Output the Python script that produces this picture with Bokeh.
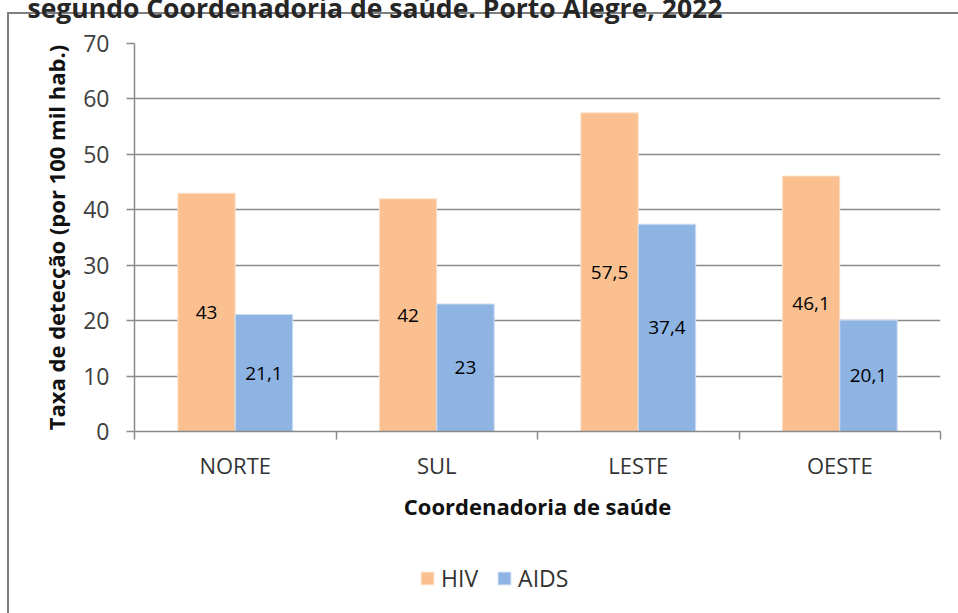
from bokeh.plotting import figure
from bokeh.layouts import column
from bokeh.models import (Range1d, FixedTicker, LinearAxis, Grid, Legend, LegendItem,
                          Title, ColumnDataSource)
from bokeh.embed import file_html
from bokeh.resources import INLINE
from bokeh.core.properties import value

# ---- data ----
categories = ["NORTE", "SUL", "LESTE", "OESTE"]
hiv = [43, 42, 57.5, 46.1]
aids = [21.1, 23, 37.4, 20.1]
series_names = ["HIV", "AIDS"]
y_ticks = [0, 10, 20, 30, 40, 50, 60, 70]
title_text = "segundo Coordenadoria de saúde. Porto Alegre, 2022"
x_title = "Coordenadoria de saúde"
y_title = "Taxa de detecção (por 100 mil hab.)"

# ---- style ----
HIV_COLOR = "#FAC090"
AIDS_COLOR = "#8EB4E3"
HIV_LINE = "#fde4cf"
AIDS_LINE = "#cddcf2"
GRID = "#8a8a8a"
FONT = "Open Sans"
W = 958
SHIFT = 33                 # top part of the canvas hidden above the page (cut title)
H_MAIN = 545 + SHIFT
H_LEG = 68
BAR_W = 0.285

def fmt(v):
    return f"{v:g}".replace(".", ",")

centers = [i + 0.5 for i in range(len(categories))]
src_hiv = ColumnDataSource(dict(x=[c - BAR_W / 2 for c in centers], top=hiv,
                                mid=[v / 2 for v in hiv], lab=[fmt(v) for v in hiv]))
src_aids = ColumnDataSource(dict(x=[c + BAR_W / 2 for c in centers], top=aids,
                                 mid=[v / 2 for v in aids], lab=[fmt(v) for v in aids]))

# outer chart box: left and top edges (page background behind the transparent canvas)
box_main = (f"linear-gradient(#7f7f7f, #7f7f7f) 7px {12 + SHIFT}px / 2px 900px no-repeat, "
            f"linear-gradient(#7f7f7f, #7f7f7f) 7px {12 + SHIFT}px / 960px 2px no-repeat, #ffffff")
box_leg = "linear-gradient(#7f7f7f, #7f7f7f) 7px 0px / 2px 200px no-repeat, #ffffff"

p = figure(width=W, height=H_MAIN, x_range=Range1d(0, len(categories)), y_range=Range1d(0, 70),
           output_backend="svg", toolbar_location=None, x_axis_type=None, y_axis_type=None,
           min_border_left=134, min_border_right=18, min_border_top=43 + SHIFT,
           min_border_bottom=114,
           background_fill_color="white", border_fill_color=None,
           outline_line_color=None, margin=(-SHIFT, 0, 0, 0),
           styles={"background": box_main})

# title (its top is cut by the page edge, as in the reference)
p.add_layout(Title(text=title_text, align="left", offset=27 - 134, standoff=36,
                   text_font=FONT, text_font_style="bold", text_font_size="26.5px",
                   text_color="#262626"), "above")

# y axis
yaxis = LinearAxis(ticker=FixedTicker(ticks=y_ticks, minor_ticks=[]))
yaxis.axis_line_color = GRID
yaxis.axis_line_width = 1.5
yaxis.major_tick_line_color = GRID
yaxis.major_tick_line_width = 1.5
yaxis.major_tick_out = 8
yaxis.major_tick_in = 0
yaxis.major_label_standoff = 17
yaxis.major_label_text_font = FONT
yaxis.major_label_text_font_size = "23px"
yaxis.major_label_text_color = "#404040"
yaxis.axis_label = y_title
yaxis.axis_label_text_font = FONT
yaxis.axis_label_text_font_style = "bold"
yaxis.axis_label_text_font_size = "22px"
yaxis.axis_label_text_color = "#111111"
yaxis.axis_label_standoff = 9
p.add_layout(yaxis, "left")

# x axis: labels at category centres, ticks at category boundaries
xaxis = LinearAxis(ticker=FixedTicker(ticks=centers, minor_ticks=list(range(len(categories) + 1))))
xaxis.major_label_overrides = {c: name for c, name in zip(centers, categories)}
xaxis.axis_line_color = GRID
xaxis.axis_line_width = 1.5
xaxis.major_tick_line_color = None
xaxis.major_tick_out = 0
xaxis.major_tick_in = 0
xaxis.minor_tick_line_color = GRID
xaxis.minor_tick_line_width = 1.5
xaxis.minor_tick_out = 8
xaxis.minor_tick_in = 0
xaxis.major_label_standoff = 10
xaxis.major_label_text_font = FONT
xaxis.major_label_text_font_size = "22px"
xaxis.major_label_text_color = "#333333"
xaxis.axis_label = x_title
xaxis.axis_label_text_font = FONT
xaxis.axis_label_text_font_style = "bold"
xaxis.axis_label_text_font_size = "22px"
xaxis.axis_label_text_color = "#111111"
xaxis.axis_label_standoff = 8
p.add_layout(xaxis, "below")

p.add_layout(Grid(dimension=1, ticker=yaxis.ticker, grid_line_color=GRID, grid_line_width=1.5))

p.vbar(x="x", top="top", width=BAR_W, bottom=0, source=src_hiv,
       fill_color=HIV_COLOR, line_color=HIV_LINE, line_width=1)
p.vbar(x="x", top="top", width=BAR_W, bottom=0, source=src_aids,
       fill_color=AIDS_COLOR, line_color=AIDS_LINE, line_width=1)

for src in (src_hiv, src_aids):
    p.text(x="x", y="mid", text="lab", source=src, text_align="center",
           text_baseline="middle", text_font=value(FONT), text_font_size="19px",
           text_color="black")

# legend strip below the chart (its frame is aligned with the chart's frame)
p2 = figure(width=W, height=H_LEG, x_range=Range1d(0, len(categories)), y_range=Range1d(0, 70),
            output_backend="svg", toolbar_location=None, x_axis_type=None, y_axis_type=None,
            min_border=0, background_fill_color=None, border_fill_color=None,
            outline_line_color=None, styles={"background": box_leg})
k_hiv = p2.vbar(x="x", top="top", width=BAR_W, source=src_hiv, visible=False,
                fill_color=HIV_COLOR, line_color=HIV_LINE)
k_aids = p2.vbar(x="x", top="top", width=BAR_W, source=src_aids, visible=False,
                 fill_color=AIDS_COLOR, line_color=AIDS_LINE)
legend = Legend(items=[LegendItem(label=series_names[0], renderers=[k_hiv]),
                       LegendItem(label=series_names[1], renderers=[k_aids])],
                location=(419 - 134, 19), orientation="horizontal",
                glyph_width=16, glyph_height=16, label_standoff=6, spacing=18,
                padding=0, margin=0, border_line_color=None, background_fill_alpha=0,
                inactive_fill_alpha=0,
                label_text_font=FONT, label_text_font_size="23px", label_text_color="#333333")
p2.add_layout(legend, "center")

layout = column(p, p2, spacing=0)
open("out.html", "w").write(file_html(layout, INLINE))
